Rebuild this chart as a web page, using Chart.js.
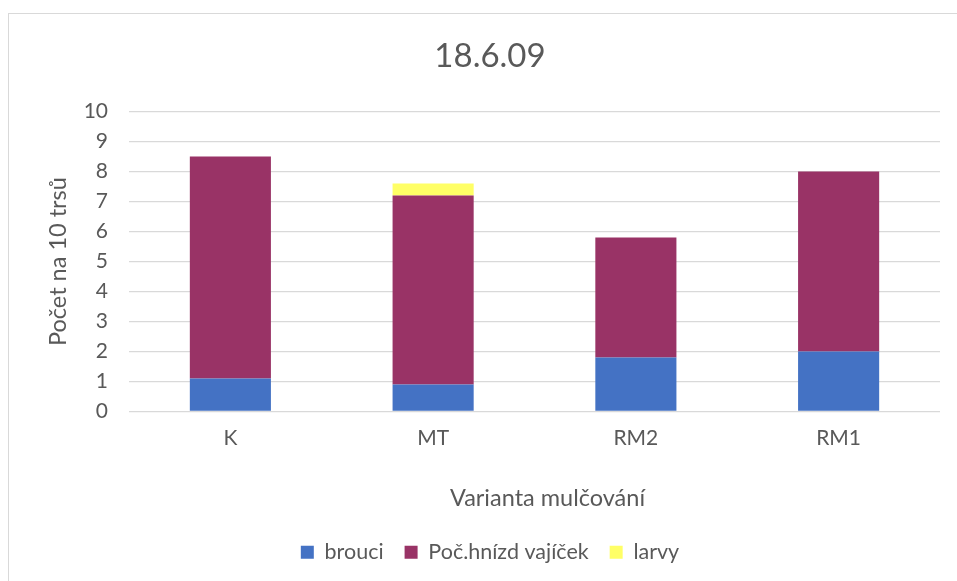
<!DOCTYPE html>
<html>
<head>
<meta charset="utf-8">
<script src="https://cdn.jsdelivr.net/npm/chart.js@4"></script>
<style>
html,body{margin:0;padding:0;background:#fff;}
#wrap{position:absolute;left:0;top:0;width:957px;height:581px;}
#frame{position:absolute;left:8px;top:13px;width:960px;height:600px;border-left:1.5px solid #d9d9d9;border-top:1.5px solid #d9d9d9;}
canvas{position:absolute;left:0;top:0;}
</style>
</head>
<body>
<div id="wrap">
<div id="frame"></div>
<canvas id="c" width="957" height="581"></canvas>
</div>
<script>
const categories = ["K", "MT", "RM2", "RM1"];
const brouci = [1.1, 0.9, 1.8, 2.0];
const hnizda = [7.4, 6.3, 4.0, 6.0];
const larvy = [0, 0.4, 0, 0];
const seriesNames = ["brouci", "Poč.hnízd vajíček", "larvy"];
const chartTitle = "18.6.09";
const yTitle = "Počet na 10 trsů";
const xTitle = "Varianta mulčování";

const FONT = "Lato";
const TXT = "#595959";

// x-axis title is offset to the right of the plot centre in the original
const xTitlePlugin = {
  id: "xTitleOffset",
  afterDraw(chart) {
    const s = chart.scales.x;
    const ctx = chart.ctx;
    ctx.save();
    ctx.font = "23.5px " + FONT;
    ctx.fillStyle = TXT;
    ctx.textAlign = "center";
    ctx.textBaseline = "middle";
    ctx.fillText(xTitle, (s.left + s.right) / 2 + 13, s.bottom - 22);
    ctx.restore();
  }
};

new Chart(document.getElementById("c"), {
  type: "bar",
  data: {
    labels: categories,
    datasets: [
      {label: seriesNames[0], data: brouci, backgroundColor: "#4472c4"},
      {label: seriesNames[1], data: hnizda, backgroundColor: "#993366"},
      {label: seriesNames[2], data: larvy, backgroundColor: "#ffff66"}
    ]
  },
  plugins: [xTitlePlugin],
  options: {
    responsive: false,
    animation: false,
    datasets: {bar: {barPercentage: 0.4, categoryPercentage: 1.0, borderWidth: 0}},
    layout: {padding: {left: 40, right: 17, top: 20, bottom: 8}},
    plugins: {
      title: {display: true, text: chartTitle, color: TXT,
        font: {family: FONT, size: 33, weight: "normal"},
        padding: {top: 17, bottom: 35}},
      legend: {position: "bottom",
        labels: {color: TXT, font: {family: FONT, size: 21.5}, boxWidth: 13, boxHeight: 13, padding: 21}},
      tooltip: {enabled: false}
    },
    scales: {
      x: {
        stacked: true,
        grid: {display: false, drawTicks: false},
        border: {display: false},
        ticks: {color: TXT, font: {family: FONT, size: 21}, padding: 14},
        title: {display: false, text: xTitle},
        afterFit: s => { s.height = 109; }
      },
      y: {
        stacked: true,
        min: 0, max: 10,
        grid: {color: "#d9d9d9", lineWidth: 1.3, drawTicks: false},
        border: {display: false},
        ticks: {stepSize: 1, color: TXT, font: {family: FONT, size: 21}, padding: 21},
        title: {display: true, text: yTitle, color: TXT, font: {family: FONT, size: 23.5}, padding: {top: 4, bottom: 4}},
        afterFit: s => { s.width = 89; }
      }
    }
  }
});
</script>
</body>
</html>
